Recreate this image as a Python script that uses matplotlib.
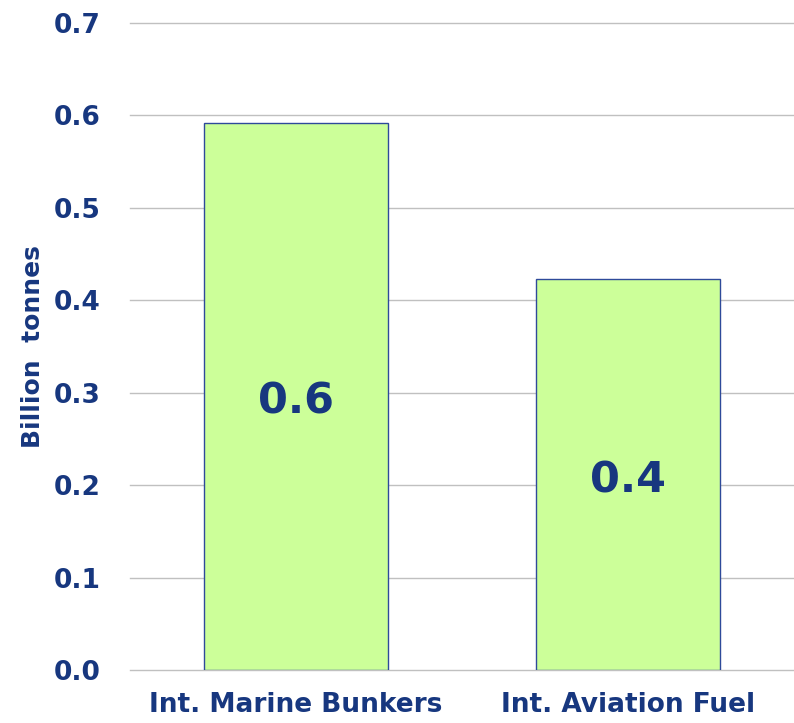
import matplotlib
matplotlib.use("Agg")
import matplotlib.pyplot as plt

categories = ["Int. Marine Bunkers", "Int. Aviation Fuel"]
values = [0.592, 0.423]
bar_labels = ["0.6", "0.4"]
yticks = [0.0, 0.1, 0.2, 0.3, 0.4, 0.5, 0.6, 0.7]

navy = "#17377F"
fill = "#CCFF99"

plt.rcParams['font.family'] = ['DejaVu Sans']
fig = plt.figure(figsize=(7.94, 7.23), dpi=100)
ax = fig.add_axes([0.1637, 0.0733, 0.8363, 0.8949])

x = list(range(len(categories)))
ax.bar(x, values, width=0.556, color=fill, edgecolor="#2E4A9A", linewidth=1.0, zorder=3)
for xi, v, lab in zip(x, values, bar_labels):
    ax.text(xi, v / 2 - 0.006, lab, ha="center", va="center", fontsize=31, fontweight="bold", color=navy, zorder=4)

ax.set_xlim(-0.5, 1.5)
ax.set_ylim(0, 0.7)
ax.set_yticks(yticks)
ax.set_yticklabels([f"{t:.1f}" for t in yticks], fontsize=19, fontweight="bold", color=navy)
ax.set_xticks(x)
ax.set_xticklabels(categories, fontsize=19, fontweight="bold", color=navy)
ax.tick_params(axis="both", length=0)
ax.tick_params(axis="y", pad=21)
ax.tick_params(axis="x", pad=16)
ax.yaxis.grid(True, color="#C0C0C0", linewidth=1.0, zorder=0)
for gl in ax.get_ygridlines():
    gl.set_clip_on(False)
ax.set_axisbelow(True)
for s in ax.spines.values():
    s.set_visible(False)
ax.set_ylabel("Billion  tonnes", fontsize=18, fontweight="bold", color=navy)
ax.yaxis.set_label_coords(-0.128, 0.5)

fig.savefig("out.png", dpi=100)
